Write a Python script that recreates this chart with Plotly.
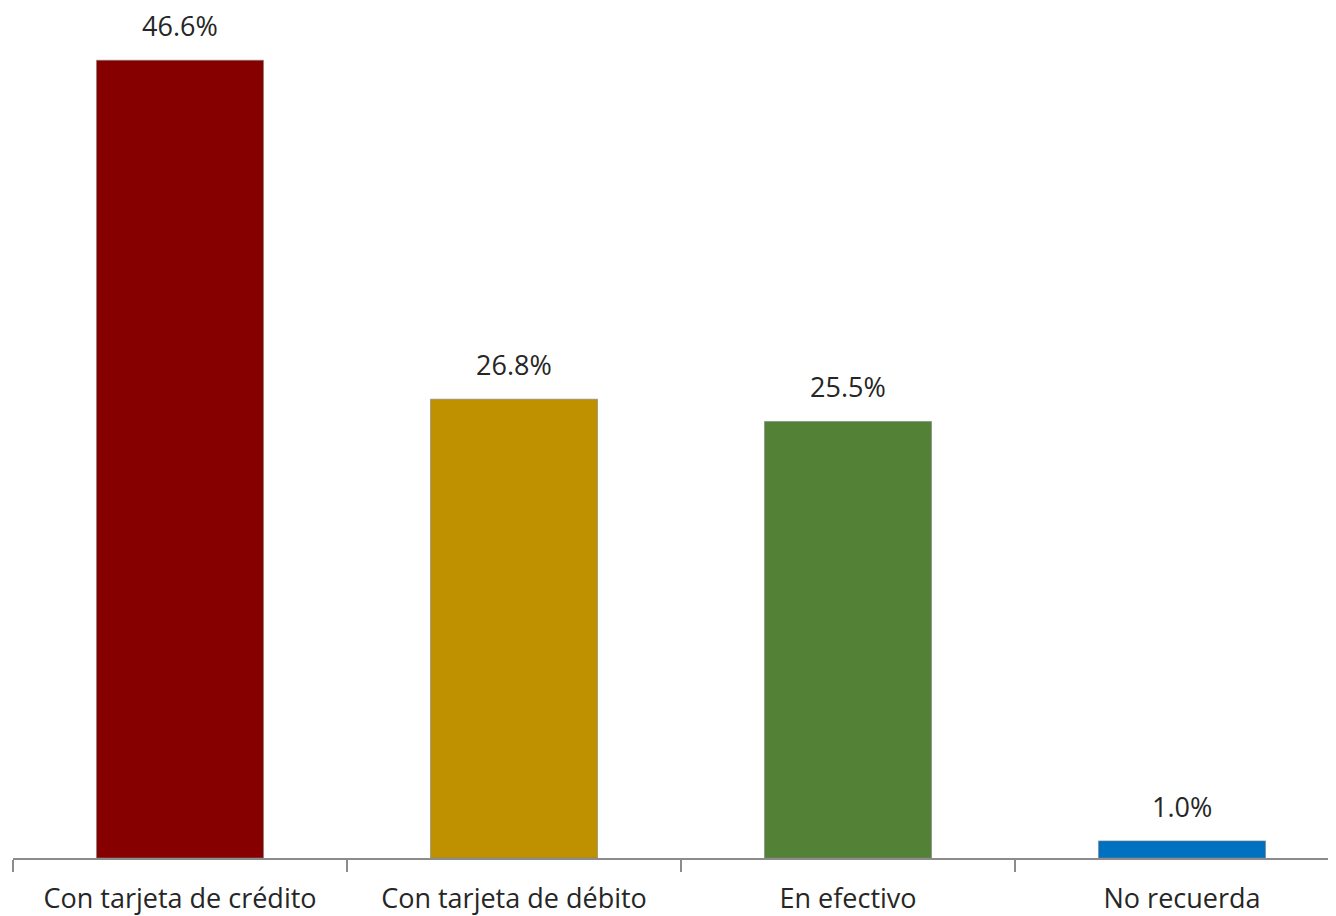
import plotly.graph_objects as go

categories = ["Con tarjeta de crédito", "Con tarjeta de débito", "En efectivo", "No recuerda"]
values = [46.6, 26.8, 25.5, 1.0]
labels = ["46.6%", "26.8%", "25.5%", "1.0%"]
colors = ["#870000", "#BF9000", "#538135", "#0070C0"]

fig = go.Figure()
fig.add_trace(go.Bar(
    x=categories, y=values, width=0.5,
    marker=dict(color=colors, line=dict(color="#7f7f7f", width=0.6)),
    hoverinfo="skip",
))
for c, v, t in zip(categories, values, labels):
    fig.add_annotation(x=c, y=v, text=t, showarrow=False, yanchor="bottom", yshift=14,
                       font=dict(family="Open Sans", size=27, color="#262626"))

fig.update_layout(
    width=1336, height=916,
    margin=dict(l=5, r=0, t=0, b=66),
    paper_bgcolor="white", plot_bgcolor="rgba(0,0,0,0)",
    showlegend=False,
    bargap=0.5,
    xaxis=dict(
        type="category", range=[-0.5, 3.485],
        showline=True, linecolor="#8c8c8c", linewidth=1.5,
        ticks="outside", tickson="boundaries", ticklen=12, tickcolor="#8c8c8c", tickwidth=1.5,
        tickfont=dict(family="Open Sans", size=27, color="#262626"),
        ticklabelstandoff=16,
        showgrid=False, zeroline=False,
    ),
    yaxis=dict(range=[0, 49.65], visible=False, showgrid=False, zeroline=False),
)

fig.write_html("out.html")
